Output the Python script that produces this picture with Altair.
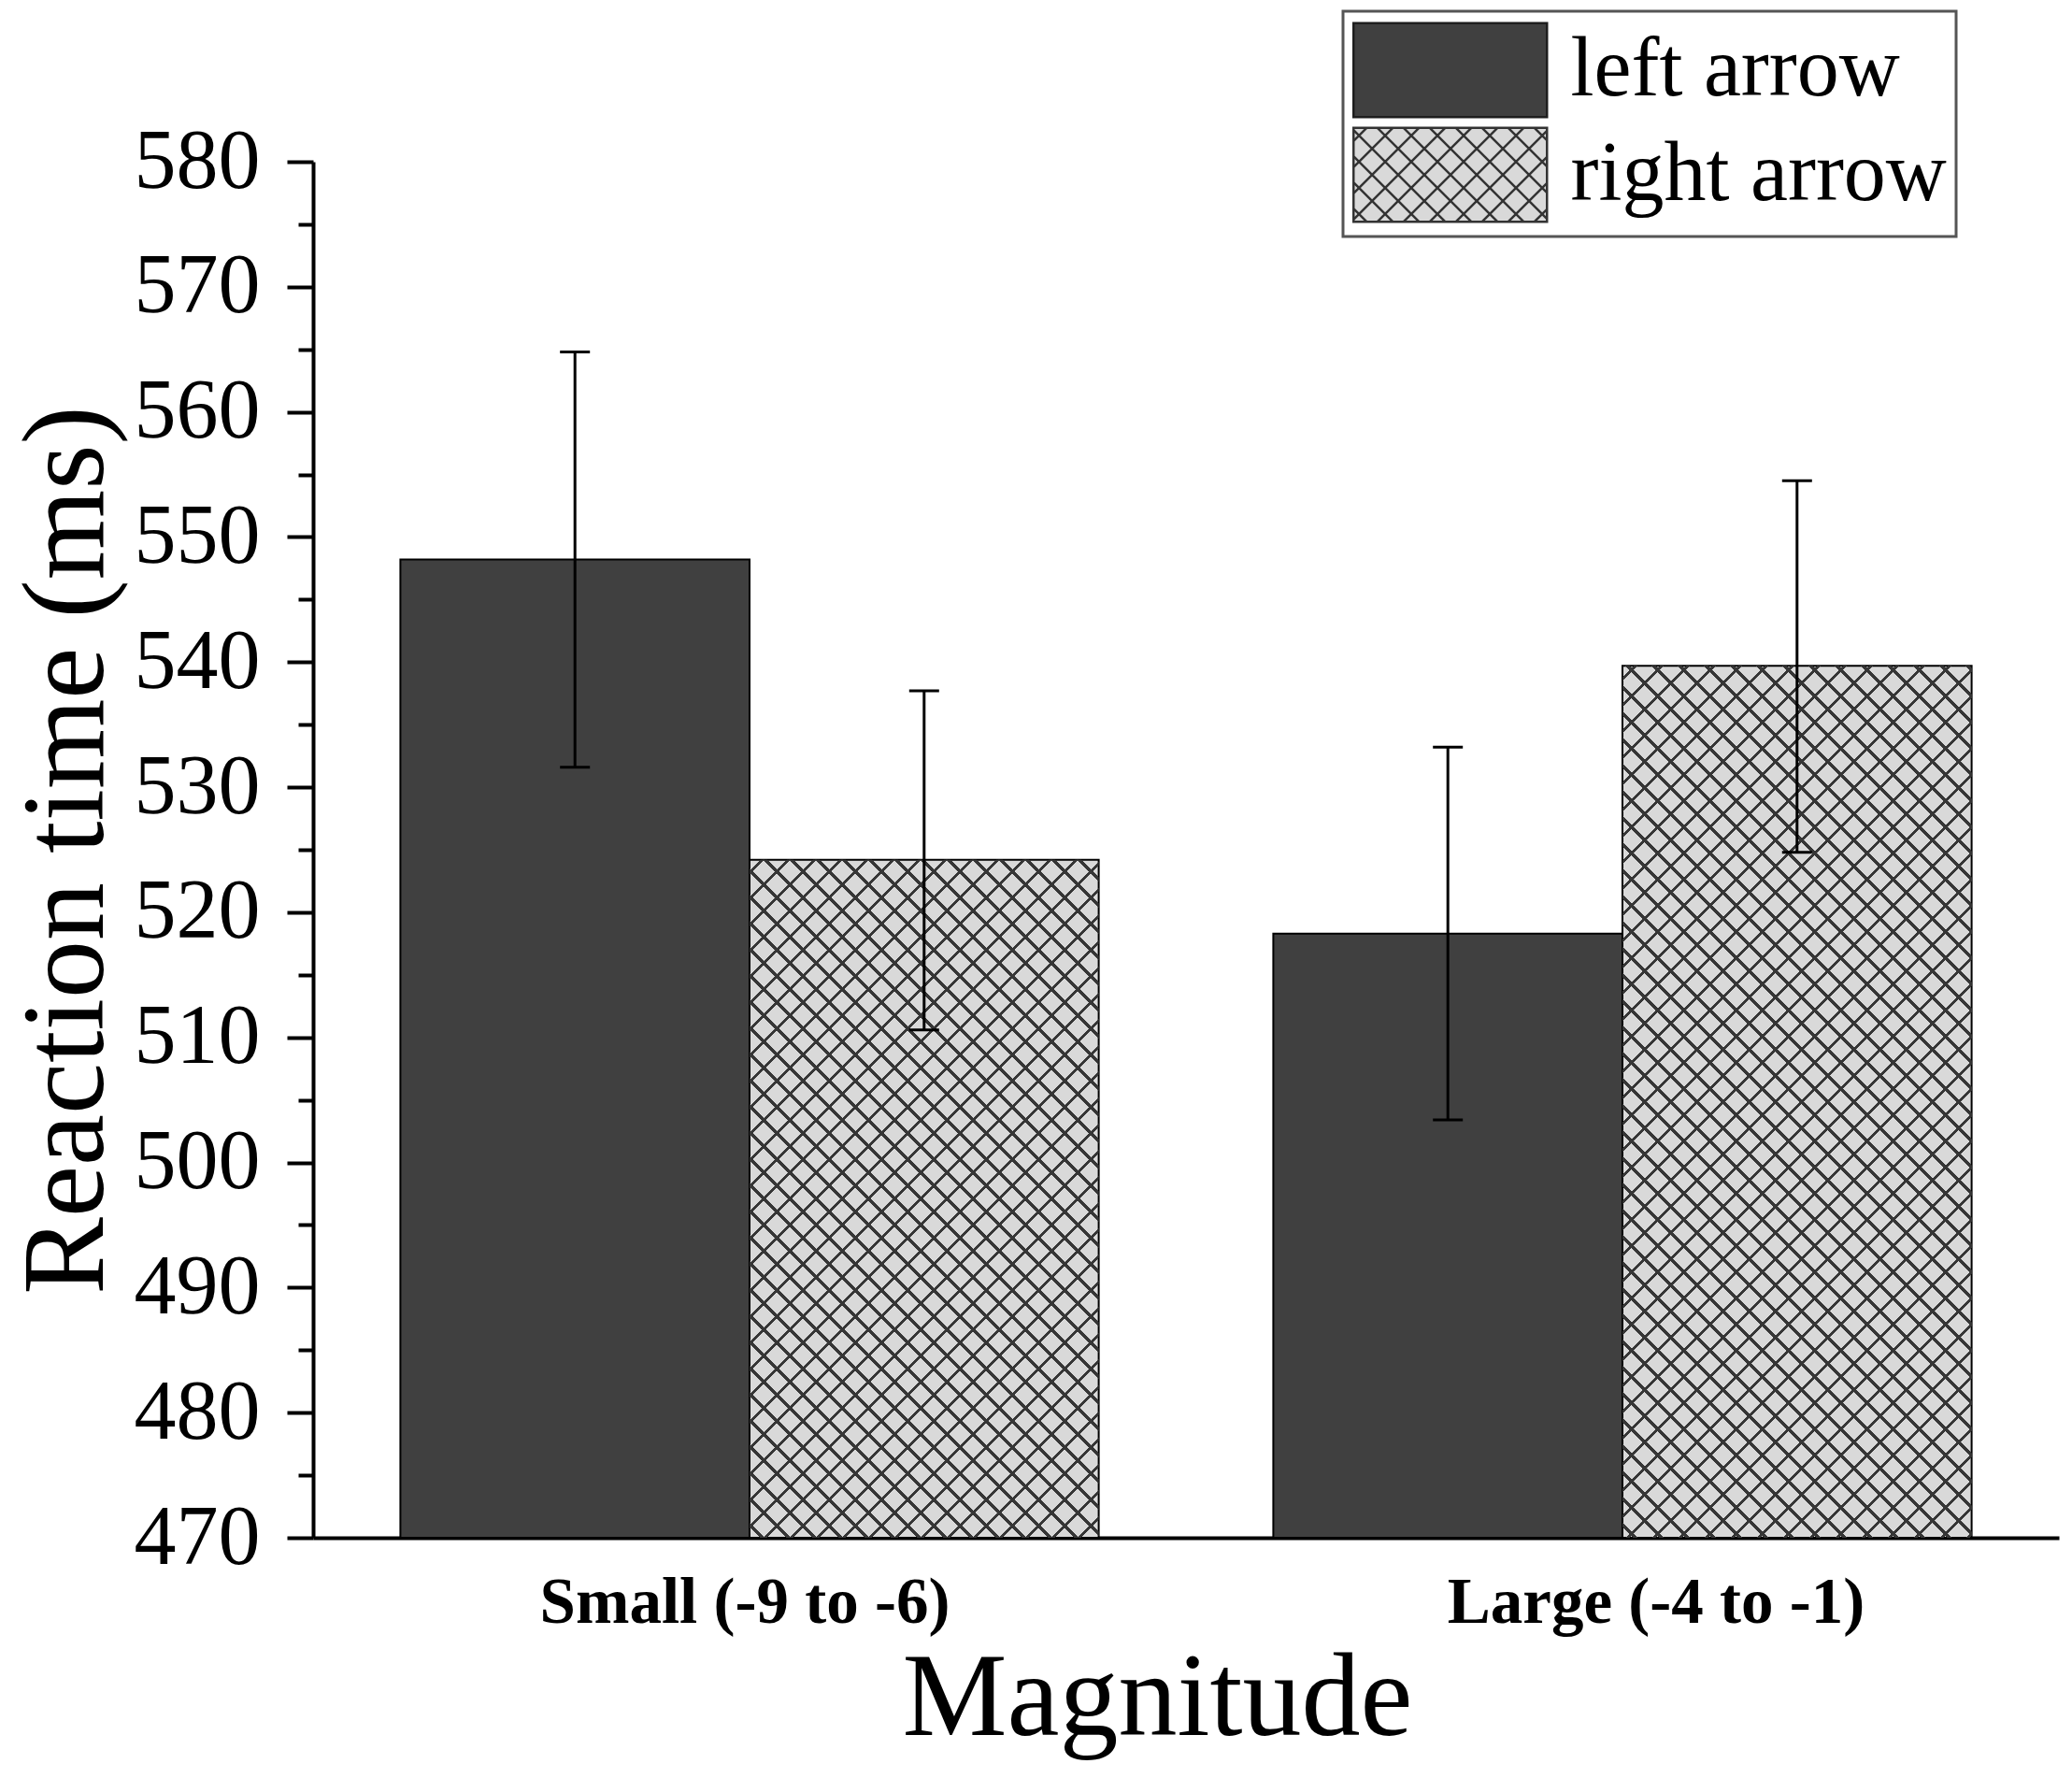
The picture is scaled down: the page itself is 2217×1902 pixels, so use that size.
import altair as alt
import pandas as pd

# ---------------- data ----------------
groups = ["Small (-9 to -6)", "Large (-4 to -1)"]
arrows = ["left arrow", "right arrow"]
mean_left = [548.2, 518.3]
mean_right = [524.2, 539.7]
hi_left = [564.8, 533.2]
lo_left = [531.6, 503.4]
hi_right = [537.7, 554.5]
lo_right = [510.6, 524.8]
y_major = [470, 480, 490, 500, 510, 520, 530, 540, 550, 560, 570, 580]
y_minor = [475, 485, 495, 505, 515, 525, 535, 545, 555, 565, 575]

rows = []
for i, g in enumerate(groups):
    rows.append(dict(group=g, arrow=arrows[0], rt=mean_left[i], lo=lo_left[i], hi=hi_left[i]))
    rows.append(dict(group=g, arrow=arrows[1], rt=mean_right[i], lo=lo_right[i], hi=hi_right[i]))
df = pd.DataFrame(rows)

# ---------------- layout / style ----------------
PLOT_W, PLOT_H = 1868, 1472
Y_MIN, Y_MAX = 470, 580
PAD_INNER, PAD_OUTER = 0.2, 0.1
FONT = "Liberation Serif"
DARK, LIGHT, HATCH = "#404040", "#d9d9d9", "#363636"

step = PLOT_W / (len(groups) - PAD_INNER + 2 * PAD_OUTER)
bar_w = step * (1 - PAD_INNER) / len(arrows)
px_per_unit = PLOT_H / (Y_MAX - Y_MIN)

PERIOD = 28.0   # hatch period measured along x (px)
HALF = 2.1      # half line thickness in (X+Y) units


def hatch_stops(total):
    clear = "rgba(0,0,0,0)"
    stops = [{"offset": 0, "color": clear}]
    c = PERIOD / 2
    while c - HALF < total:
        a = round(max(0.0, (c - HALF) / total), 5)
        b = round(min(1.0, (c + HALF) / total), 5)
        stops += [{"offset": a, "color": clear}, {"offset": a, "color": HATCH},
                  {"offset": b, "color": HATCH}, {"offset": b, "color": clear}]
        c += PERIOD
    stops.append({"offset": 1, "color": clear})
    return stops


def hatch_gradients(w, h):
    s = (w + h) / (w * w + h * h)
    stops = hatch_stops(w + h)
    g1 = {"gradient": "linear", "x1": 0, "y1": 0, "x2": s * w, "y2": s * h, "stops": stops}
    g2 = {"gradient": "linear", "x1": 0, "y1": 1, "x2": s * w, "y2": 1 - s * h, "stops": stops}
    return g1, g2


# legend symbols (custom paths, unit space scaled by sqrt(size)/2)
R = 51.75
HW, HH = 2.0, 0.97
rect_path = f"M{-HW},{-HH}H{HW}V{HH}H{-HW}Z"
pu = PERIOD / R
parts = []
c = -(HW + HH) + pu / 2
while c < HW + HH:
    lo = max(-HW, c - HH)
    hi = min(HW, c + HH)
    if hi - lo > 1e-6:
        parts.append(f"M{lo:.3f},{c - lo:.3f}L{hi:.3f},{c - hi:.3f}")
        parts.append(f"M{lo:.3f},{lo - c:.3f}L{hi:.3f},{hi - c:.3f}")
    c += pu
hatch_path = rect_path + "".join(parts)

# ---------------- encodings ----------------
x_enc = alt.X(
    "group:N",
    sort=groups,
    scale=alt.Scale(domain=groups, paddingInner=PAD_INNER, paddingOuter=PAD_OUTER),
    axis=alt.Axis(
        title="Magnitude", labelAngle=0, ticks=False, tickSize=0,
        domainColor="black", domainWidth=4,
        labelFont=FONT, labelFontWeight="bold", labelFontSize=69, labelColor="black",
        labelPadding=90, labelBaseline="alphabetic", labelLimit=1000,
        labelOffset={"condition": {"test": f"datum.value == '{groups[1]}'", "value": 36}, "value": -5},
        titleFont=FONT, titleFontSize=126, titleFontWeight="normal", titleColor="black",
        titleX=903, titleY=210, titleBaseline="alphabetic", titleAlign="center",
    ),
)
xoff_enc = alt.XOffset("arrow:N", scale=alt.Scale(domain=arrows, paddingInner=0, paddingOuter=0))
y_scale = alt.Scale(domain=[Y_MIN, Y_MAX], nice=False, zero=False)
y_base = alt.datum(Y_MIN)

main_axis = alt.Axis(
    values=y_major, grid=False, tickSize=28, tickWidth=4, tickColor="black",
    domainColor="black", domainWidth=4,
    labelFont=FONT, labelFontSize=90, labelColor="black", labelPadding=29,
    labelFlush=False, labelOverlap=False, labelBound=False,
    title="Reaction time (ms)", titleFont=FONT, titleFontSize=124, titleFontWeight="normal",
    titleColor="black", titleAngle=270, titleBaseline="alphabetic", titleX=-226, titleY=PLOT_H / 2,
    titleAlign="center", orient="left",
)
minor_axis = alt.Axis(
    values=y_minor, grid=False, tickSize=16, tickWidth=4, tickColor="black",
    labels=False, domain=False, title=None, orient="left",
)

legend = alt.Legend(
    title=None, orient="none", legendX=1102, legendY=-161,
    symbolSize=R * R * 4, symbolOffset=R, labelOffset=2 * R * HW - 3 * R + 24,
    symbolStrokeColor="#222222", symbolStrokeWidth=2.5, symbolOpacity=1,
    labelFont=FONT, labelFontSize=90, labelColor="black", labelLimit=1000,
    padding=10, rowPadding=0, strokeColor="#555555",
)

fill_scale = alt.Scale(domain=arrows, range=[DARK, LIGHT])
base = alt.Chart(df)

bars = base.mark_bar(stroke="black", strokeWidth=2).encode(
    x=x_enc, xOffset=xoff_enc,
    y=alt.Y("rt:Q", scale=y_scale, axis=main_axis), y2=y_base,
    fill=alt.Fill("arrow:N", scale=fill_scale, legend=legend),
)

layers = [bars]
for i, g in enumerate(groups):
    h = (mean_right[i] - Y_MIN) * px_per_unit
    for grad in hatch_gradients(bar_w, h):
        layers.append(
            base.mark_bar(fill=grad, strokeWidth=0)
            .transform_filter((alt.datum.group == g) & (alt.datum.arrow == arrows[1]))
            .encode(x=x_enc, xOffset=xoff_enc,
                    y=alt.Y("rt:Q", scale=y_scale, axis=None), y2=y_base)
        )

rules = base.mark_rule(color="black", strokeWidth=3).encode(
    x=x_enc, xOffset=xoff_enc,
    y=alt.Y("lo:Q", scale=y_scale, axis=minor_axis), y2="hi:Q",
)
cap_hi = base.mark_tick(color="black", size=32, thickness=3, opacity=1).encode(
    x=x_enc, xOffset=xoff_enc, y=alt.Y("hi:Q", scale=y_scale, axis=None),
)
cap_lo = base.mark_tick(color="black", size=32, thickness=3, opacity=1).encode(
    x=x_enc, xOffset=xoff_enc, y=alt.Y("lo:Q", scale=y_scale, axis=None),
)

# legend carrier: no visible points, gives the legend its fill, stroke and custom shapes
legend_layer = base.mark_point(filled=True, opacity=1, strokeWidth=2.5).transform_filter(
    "false"
).encode(
    x=x_enc, xOffset=xoff_enc, y=alt.Y("rt:Q", scale=y_scale, axis=None),
    fill=alt.Fill("arrow:N", scale=fill_scale, legend=legend),
    shape=alt.Shape("arrow:N", scale=alt.Scale(domain=arrows, range=[rect_path, hatch_path]), legend=legend),
    stroke=alt.Stroke("arrow:N", scale=alt.Scale(domain=arrows, range=["#1e1e1e", "#333333"]), legend=legend),
)

layers += [rules, cap_hi, cap_lo, legend_layer]

chart = (
    alt.layer(*layers)
    .resolve_axis(y="independent")
    .properties(
        width=PLOT_W, height=PLOT_H,
        autosize=alt.AutoSizeParams(type="none"),
        padding={"left": 327, "top": 165, "right": 6, "bottom": 249},
        background="white",
    )
    .configure_view(stroke="transparent")
)

try:
    props = alt.LegendConfig.resolve_references().get("properties", {})
    if "strokeWidth" in props:
        chart = chart.configure_legend(strokeWidth=3)
except Exception:
    pass

chart.save("out.html", embed_options={"renderer": "svg", "actions": False})
